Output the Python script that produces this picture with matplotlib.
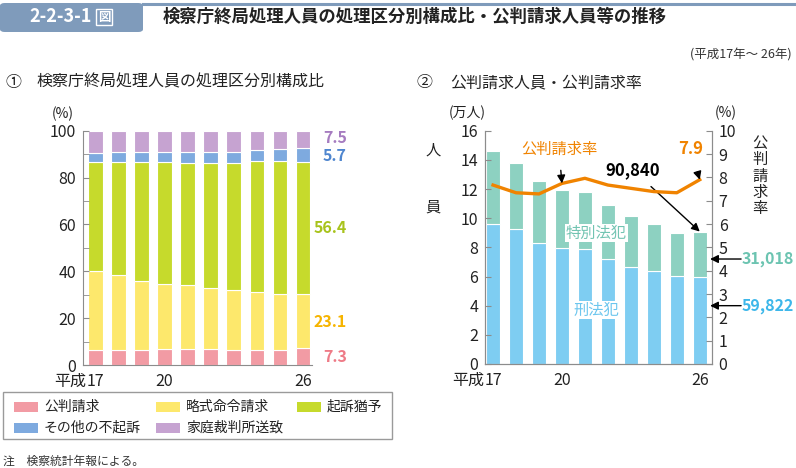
import numpy as np
import matplotlib
matplotlib.use("Agg")
import matplotlib.pyplot as plt
from matplotlib.patches import Rectangle, FancyBboxPatch

plt.rcParams['font.family'] = ['Noto Sans CJK JP', 'DejaVu Sans']

# ---- data ----
years = ['17', '18', '19', '20', '21', '22', '23', '24', '25', '26']
cats = ['公判請求', '略式命令請求', '起訴猶予', 'その他の不起訴', '家庭裁判所送致']
kohan = [6.5, 6.4, 6.3, 6.7, 7.0, 6.7, 6.5, 6.5, 6.5, 7.3]
ryakushiki = [33.8, 32.0, 29.5, 27.7, 27.0, 26.0, 25.4, 24.7, 23.8, 23.1]
kiso_yuyo = [46.3, 48.1, 50.7, 52.1, 52.2, 53.4, 54.4, 55.7, 56.6, 56.4]
sonota = [3.7, 4.3, 4.3, 4.5, 4.6, 4.8, 4.7, 5.0, 5.3, 5.7]
katei = [9.7, 9.2, 9.2, 9.0, 9.2, 9.1, 9.0, 8.1, 7.8, 7.5]

keiho = [9.58, 9.28, 8.30, 7.98, 7.86, 7.22, 6.65, 6.40, 6.03, 5.9822]   # 万人
tokubetsu = [5.05, 4.48, 4.25, 3.95, 3.96, 3.71, 3.50, 3.18, 2.98, 3.1018]
rate = [7.67, 7.34, 7.29, 7.74, 7.96, 7.67, 7.53, 7.39, 7.34, 7.9]

tick_pos = [0, 3, 9]
tick_lab = ['17', '20', '26']

c_pink, c_yel, c_grn, c_blu, c_pur = '#f29ba4', '#fde86c', '#c6da2c', '#7eaadf', '#c6a3d1'
c_keiho, c_toku, c_line = '#7ecdf2', '#8dd1c1', '#f08300'

W, H = 796, 468
fig = plt.figure(figsize=(W / 100, H / 100), dpi=100)


def fx(px):
    return px / W


def fy(py):
    return 1 - py / H


grey = '#8c8c8c'
dark = '#222222'

# ---- header ----
fig.patches.append(FancyBboxPatch((fx(0), fy(32)), fx(143), fy(3) - fy(32),
                                  boxstyle='round,pad=0,rounding_size=0.006',
                                  transform=fig.transFigure, fc='#7f9bbb', ec='none'))
fig.add_artist(plt.Line2D([fx(143), fx(796)], [fy(3.5), fy(3.5)], color='#7f9bbb', lw=2.2))
fig.text(fx(61), fy(17), '2-2-3-1', color='white', fontsize=13, fontweight='bold',
         ha='center', va='center')
fig.text(fx(104), fy(17), '図', color='white', fontsize=9, fontweight='bold',
         ha='center', va='center',
         bbox=dict(fc='none', ec='white', lw=1, boxstyle='square,pad=0.12'))
fig.text(fx(163), fy(17), '検察庁終局処理人員の処理区分別構成比・公判請求人員等の推移',
         fontsize=12.5, fontweight='bold', va='center', color=dark)
fig.text(fx(792), fy(55), '(平成17年～ 26年)', fontsize=9, ha='right', va='center', color='#333333')
fig.text(fx(5), fy(82), '①', fontsize=11.5, va='center', color=dark)
fig.text(fx(36), fy(82), '検察庁終局処理人員の処理区分別構成比', fontsize=11.5, va='center', color=dark)
fig.text(fx(416), fy(83), '②', fontsize=11.5, va='center', color=dark)
fig.text(fx(450), fy(83), '公判請求人員・公判請求率', fontsize=11.5, va='center', color=dark)

x = np.arange(len(years))
bw = 0.62

# ---- chart 1 ----
ax1 = fig.add_axes([fx(83), fy(365), fx(311.7) - fx(83), fy(130.7) - fy(365)])
bottom = np.zeros(len(years))
for vals, col in zip([kohan, ryakushiki, kiso_yuyo, sonota, katei],
                     [c_pink, c_yel, c_grn, c_blu, c_pur]):
    ax1.bar(x, vals, bw, bottom=bottom, color=col, edgecolor='white', linewidth=0.8)
    bottom += np.array(vals)
ax1.set_xlim(-0.54, 9.39)
ax1.set_ylim(0, 100)
ax1.set_yticks(range(0, 101, 20))
ax1.set_yticks(range(10, 100, 20), minor=True)
ax1.set_xticks(tick_pos)
ax1.set_xticklabels(tick_lab)
for s in ['top', 'right']:
    ax1.spines[s].set_visible(False)
for s in ['left', 'bottom']:
    ax1.spines[s].set_color(grey)
ax1.tick_params(axis='y', which='both', direction='in', length=4, color=grey,
                labelsize=11.5, labelcolor=dark, pad=5)
ax1.tick_params(axis='x', length=0, labelsize=11.5, labelcolor=dark, pad=5.5)
ax1.annotate('平成', xy=(0, 0), xycoords=('data', 'axes fraction'), xytext=(-6.5, -5.5),
             textcoords='offset points', ha='right', va='top', fontsize=11.5, color=dark)
ax1.text(-1.4, 104, '(%)', fontsize=10, ha='center', va='bottom', color=dark)

last_lab = [(97.0, '7.5', '#a67cc0'), (89.4, '5.7', '#4f86cf'), (58.5, '56.4', '#a8c31c'),
            (18.5, '23.1', '#f6b400'), (3.4, '7.3', '#ee7b87')]
for yv, t, col in last_lab:
    ax1.text(10.92, yv, t, ha='right', va='center', fontsize=11.5, fontweight='bold',
             color=col, clip_on=False)

# ---- chart 2 ----
ax2 = fig.add_axes([fx(485), fy(364), fx(711.7) - fx(485), fy(130.7) - fy(364)])
ax2.bar(x, keiho, bw, color=c_keiho, edgecolor='white', linewidth=0.8)
ax2.bar(x, tokubetsu, bw, bottom=keiho, color=c_toku, edgecolor='white', linewidth=0.8)
ax2.set_xlim(-0.35, 9.52)
ax2.set_ylim(0, 16)
ax2.set_yticks(range(0, 17, 2))
ax2.set_xticks(tick_pos)
ax2.set_xticklabels(tick_lab)
ax2.spines['top'].set_visible(False)
for s in ['left', 'bottom', 'right']:
    ax2.spines[s].set_color(grey)
ax2.tick_params(axis='y', direction='in', length=4, color=grey, labelsize=11.5,
                labelcolor=dark, pad=5)
ax2.tick_params(axis='x', length=0, labelsize=11.5, labelcolor=dark, pad=5.5)
ax2.annotate('平成', xy=(0, 0), xycoords=('data', 'axes fraction'), xytext=(-6.5, -5.5),
             textcoords='offset points', ha='right', va='top', fontsize=11.5, color=dark)

ax3 = ax2.twinx()
ax3.plot(x, rate, color=c_line, lw=2.4)
ax3.set_ylim(0, 10)
ax3.set_yticks(range(0, 11))
ax3.spines['top'].set_visible(False)
for s in ['left', 'bottom', 'right']:
    ax3.spines[s].set_color(grey)
ax3.tick_params(axis='y', direction='in', length=4, color=grey, labelsize=11.5,
                labelcolor=dark, pad=5)

fig.text(fx(467), fy(113), '(万人)', fontsize=10, ha='center', va='center', color=dark)
fig.text(fx(726), fy(113), '(%)', fontsize=10, ha='center', va='center', color=dark)
fig.text(fx(433), fy(150), '人', fontsize=11, ha='center', va='center', color=dark)
fig.text(fx(433), fy(207), '員', fontsize=11, ha='center', va='center', color=dark)
fig.text(fx(760), fy(176), '\n'.join('公判請求率'), fontsize=11, ha='center', va='center',
         linespacing=0.95, color=dark)

arrow = dict(arrowstyle='-|>', color='black', lw=1, mutation_scale=12, shrinkA=0, shrinkB=0)
ax3.annotate('公判請求率', xy=(3, rate[3]), xytext=(2.87, 9.2), ha='center', va='center',
             fontsize=11, color=c_line, arrowprops=dict(arrow, shrinkA=7))
ax3.annotate('7.9', xy=(9, rate[9]), xytext=(8.6, 9.2), ha='center', va='center',
             fontsize=12, fontweight='bold', color=c_line, arrowprops=dict(arrow, shrinkA=8))
ax2.annotate('90,840', xy=(9, keiho[9] + tokubetsu[9]), xytext=(6.1, 13.3), ha='center',
             va='center', fontsize=12, fontweight='bold', color='black',
             arrowprops=dict(arrow, shrinkA=5))

# 31,018 / 59,822 labels at the right, arrows pointing into the last bar
for yv, t, col in [(4.5, '31,018', '#6cc4b1'), (2.5, '59,822', '#3db7ea')]:
    ax3.annotate('', xy=(9.45, yv), xytext=(10.8, yv), arrowprops=arrow, annotation_clip=False)
    ax3.text(13.1, yv, t, ha='right', va='center', fontsize=11.5, fontweight='bold',
             color=col, clip_on=False)

ax2.text(4.5, 8.98, '特別法犯', fontsize=11, color='#72c4b2', ha='center', va='center',
         bbox=dict(fc='white', ec='none', pad=0.5))
ax2.text(4.5, 3.7, '刑法犯', fontsize=11, color='#6cc6ee', ha='center', va='center',
         bbox=dict(fc='white', ec='none', pad=0.5))

# ---- legend ----
fig.patches.append(Rectangle((fx(3), fy(439)), fx(392) - fx(3), fy(392) - fy(439),
                             transform=fig.transFigure, fc='white', ec='#9a9a9a', lw=1))
leg = [(cats[0], c_pink, 14, 407), (cats[1], c_yel, 156, 407), (cats[2], c_grn, 297, 407),
       (cats[3], c_blu, 14, 428), (cats[4], c_pur, 156, 428)]
for t, col, px, py in leg:
    fig.patches.append(Rectangle((fx(px), fy(py + 5)), fx(24), fy(py - 5) - fy(py + 5),
                                 transform=fig.transFigure, fc=col, ec='none'))
    fig.text(fx(px + 30), fy(py), t, fontsize=10, va='center', color=dark)

fig.text(fx(3), fy(461), '注　検察統計年報による。', fontsize=8.5, va='center', color='#333333')

fig.savefig('out.png', dpi=100)
